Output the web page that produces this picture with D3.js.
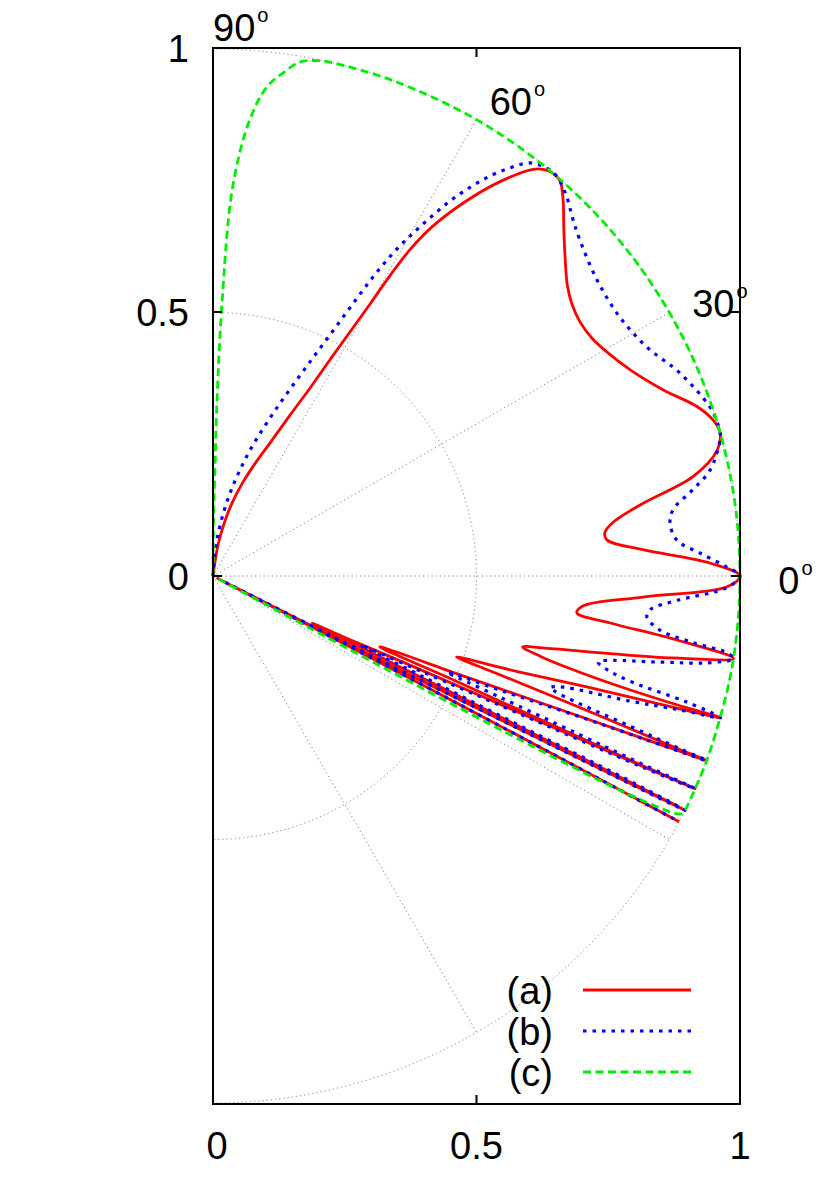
<!DOCTYPE html>
<html><head><meta charset="utf-8">
<script src="https://cdn.jsdelivr.net/npm/d3@7"></script>
<style>body{margin:0;background:#fff} text{font-family:"Liberation Sans",Arial,Helvetica,sans-serif;fill:#000}</style>
</head><body><svg id="c" width="830" height="1186"></svg>
<script>
// ---- data (polar: angle in degrees, radius) ----
const thetaA = [90,81.9,80.8,78.1,75.4,72.3,69.3,66.5,64.4,62.7,61.6,60.7,60.0,59.5,58.9,57.9,56.2,54.2,51.8,50.4,49.3,48.6,47.05,44.6,41.9,39.4,37.05,34.7,32.1,29.6,26.3,22.5,19.3,17.3,15.8,14.0,11.7,9.6,7.6,6.3,5.2,3.5,1.5,0,-1.2,-2.8,-4.6,-5.8,-6.75,-7.85,-9.0,-10.1,-11.1,-12.3,-12.9,-13.8,-14.6,-15.2,-15.5,-15.6,-15.9,-16.5,-17.4,-17.8,-18.4,-18.9,-19.2,-19.8,-20.4,-20.5,-20.7,-21.1,-21.8,-23.0,-23.4,-23.7,-23.8,-23.8,-23.9,-24.0,-24.4,-24.9,-25.4,-25.7,-25.9,-26.2,-26.3,-26.4,-26.5,-26.7,-26.9,-27.1,-27.3,-27.5,-27.7,-27.8];
const rA     = [0,0.027,0.060,0.101,0.143,0.187,0.231,0.281,0.339,0.401,0.466,0.531,0.596,0.661,0.722,0.782,0.850,0.918,0.982,0.998,1.0,0.997,0.975,0.935,0.898,0.870,0.854,0.847,0.849,0.860,0.883,0.924,0.973,0.994,1.0,0.986,0.930,0.828,0.765,0.748,0.751,0.817,0.943,1.0,0.976,0.817,0.705,0.694,0.759,0.889,1.0,0.887,0.762,0.64,0.603,0.64,0.706,0.8,0.9,1.0,0.921,0.746,0.61,0.552,0.487,0.555,0.617,0.76,0.945,1.0,0.866,0.685,0.505,0.344,0.511,0.698,0.886,1.0,0.88,0.70,0.39,0.287,0.208,0.289,0.395,0.713,0.9,1.0,0.75,0.42,0.15,0.01,0.2,0.5,0.8,1.0];

const thetaB = [90,86.4,83.7,81.2,78.7,76.2,73.8,71.4,69.3,67.5,65.9,64.6,63.5,62.6,61.8,60.9,59.9,58.8,57.7,56.5,55.3,53.95,52.5,50.7,49.2,47.0,44.8,42.5,37.6,32.5,27.8,23.5,18.8,17.2,15.8,15.0,12.0,10.2,8.2,6.6,4.4,2.7,1.0,0,-1.3,-3.0,-4.4,-5.4,-6.9,-7.9,-8.5,-9.0,-10.0,-10.9,-12.6,-13.4,-14.2,-14.9,-15.6,-16.0,-16.7,-17.7,-18.3,-18.8,-19.8,-20.3,-20.5,-20.7,-21.0,-21.7,-22.3,-22.9,-23.4,-23.65,-23.8,-24.0,-24.2,-24.6,-25.1,-25.6,-26.0,-26.2,-26.4,-26.6,-26.8,-27.0,-27.3,-27.55,-27.7,-27.8];
const rB     = [0,0.030,0.069,0.111,0.155,0.199,0.245,0.292,0.339,0.386,0.437,0.487,0.540,0.594,0.646,0.699,0.746,0.794,0.842,0.885,0.923,0.958,0.988,1.0,1.0,0.984,0.962,0.944,0.92,0.915,0.931,0.966,0.996,1.0,1.0,0.996,0.964,0.925,0.882,0.873,0.883,0.925,0.975,1.0,0.975,0.882,0.832,0.827,0.854,0.92,0.986,1.0,0.95,0.864,0.749,0.77,0.82,0.93,1.0,0.922,0.826,0.691,0.674,0.695,0.841,0.945,1.0,0.886,0.746,0.586,0.48,0.591,0.759,0.885,1.0,0.887,0.639,0.432,0.308,0.435,0.648,0.903,1.0,0.55,0.25,0.02,0.25,0.55,0.8,1.0];

const thetaC = [90,89.5,89,88.7,88.1,87.1,85.4,83.7,82,80.4,78.5,77,70,60,50,40,30,20,10,0,-10,-20,-25,-26.4,-26.9,-27.2,-27.5,-27.8,-28.0,-28.2,-28.3,-28.35];
const rC     = [0,0.1,0.2,0.33,0.52,0.74,0.868,0.934,0.965,0.989,0.998,1,1,1,1,1,1,1,1,1,1,1,1,1,0.997,0.985,0.94,0.86,0.75,0.5,0.25,0];

const seriesNames = ["(a)","(b)","(c)"];
const xTicks = [0,0.5,1];
const xTickLabels = ["0","0.5","1"];
const yTicks = [0,0.5,1];
const yTickLabels = ["0","0.5","1"];
const gridRadii = [0.5,1];
const spokeAngles = [-60,-30,0,30,60];
const angleLabels = [0,30,60,90];

// ---- drawing ----
const W = 830, H = 1186;
const svg = d3.select("#c");
svg.append("rect").attr("width",W).attr("height",H).attr("fill","#fff");

const x = d3.scaleLinear().domain([0,1]).range([213,740]);
const y = d3.scaleLinear().domain([-1,1]).range([1104,48]);
const rad = d3.scaleLinear().domain([0,1]).range([0, x(1)-x(0)]);
const ox = x(0), oy = y(0);
const FONT = 38;

svg.append("clipPath").attr("id","clip").append("rect")
  .attr("x",x(0)).attr("y",y(1)).attr("width",x(1)-x(0)).attr("height",y(-1)-y(1));

// grid
const grid = svg.append("g").attr("clip-path","url(#clip)")
  .attr("fill","none").attr("stroke","#808080").attr("stroke-width",1).attr("stroke-dasharray","1.2,3");
gridRadii.forEach(v => grid.append("circle").attr("cx",ox).attr("cy",oy).attr("r",rad(v)));
spokeAngles.forEach(a => {
  const t = a*Math.PI/180;
  grid.append("line").attr("x1",ox).attr("y1",oy)
    .attr("x2",ox+rad(1)*Math.cos(t)).attr("y2",oy-rad(1)*Math.sin(t));
});

// curves
const toAng = d => (90 - d) * Math.PI / 180;
const line = d3.lineRadial()
  .angle(d => toAng(d[0]))
  .radius(d => rad(d[1]))
  .curve(d3.curveCatmullRom.alpha(0.5));

const series = [
  {t: thetaA, r: rA, color: "#ff0000", width: 2.8, dash: null},
  {t: thetaB, r: rB, color: "#0000ff", width: 3.2, dash: "3.5,6"},
  {t: thetaC, r: rC, color: "#00ee00", width: 2.8, dash: "8,4.5"}
];
const cg = svg.append("g").attr("transform",`translate(${ox},${oy})`);
series.forEach(s => {
  cg.append("path").attr("d", line(d3.zip(s.t, s.r)))
    .attr("fill","none").attr("stroke",s.color).attr("stroke-width",s.width)
    .attr("stroke-dasharray", s.dash).attr("stroke-linejoin","round");
});

// frame
svg.append("rect").attr("x",x(0)).attr("y",y(1)).attr("width",x(1)-x(0)).attr("height",y(-1)-y(1))
  .attr("fill","none").attr("stroke","#000").attr("stroke-width",2);

// ticks
const tk = svg.append("g").attr("stroke","#000").attr("stroke-width",2);
const TL = 9;
xTicks.forEach(v => {
  tk.append("line").attr("x1",x(v)).attr("x2",x(v)).attr("y1",y(-1)).attr("y2",y(-1)-TL);
  tk.append("line").attr("x1",x(v)).attr("x2",x(v)).attr("y1",y(1)).attr("y2",y(1)+TL);
});
yTicks.forEach(v => {
  tk.append("line").attr("x1",x(0)).attr("x2",x(0)+TL).attr("y1",y(v)).attr("y2",y(v));
  tk.append("line").attr("x1",x(1)).attr("x2",x(1)-TL).attr("y1",y(v)).attr("y2",y(v));
});

// tick labels
xTicks.forEach((v,i) => {
  svg.append("text").attr("x",x(v) + (v === 0 ? 4 : 0)).attr("y",1159).attr("text-anchor","middle")
    .attr("font-size",FONT).text(xTickLabels[i]);
});
yTicks.forEach((v,i) => {
  svg.append("text").attr("x",x(0)-24).attr("y",y(v)+14).attr("text-anchor","end")
    .attr("font-size",FONT).text(yTickLabels[i]);
});

// angle labels
angleLabels.forEach(a => {
  const t = a*Math.PI/180;
  const px = ox + rad(1.05)*Math.cos(t) + (a === 0 ? 12 : 0);
  const py = oy - rad(1.05)*Math.sin(t) + 18;
  const tx = svg.append("text").attr("x",px).attr("y",py).attr("font-size",FONT);
  tx.append("tspan").text(String(a));
  tx.append("tspan").attr("font-size",20).attr("dx",2).attr("dy",-19).text("o");
});

// legend
seriesNames.forEach((n,i) => {
  const ly = 990 + i*41;
  svg.append("text").attr("x",553).attr("y",ly+14).attr("text-anchor","end")
    .attr("font-size",FONT).text(n);
  svg.append("line").attr("x1",583).attr("x2",691).attr("y1",ly).attr("y2",ly)
    .attr("stroke",series[i].color).attr("stroke-width",series[i].width)
    .attr("stroke-dasharray",series[i].dash);
});
</script></body></html>
